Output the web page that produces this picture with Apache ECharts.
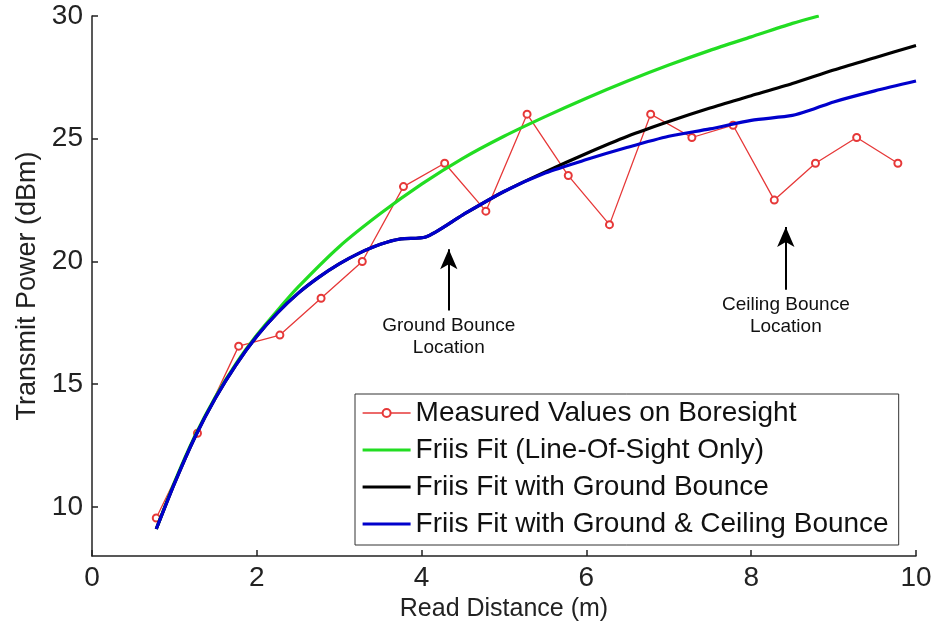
<!DOCTYPE html>
<html>
<head>
<meta charset="utf-8">
<script src="https://cdn.jsdelivr.net/npm/echarts@6/dist/echarts.min.js"></script>
<style>
html,body{margin:0;padding:0;background:#fff;}
#c{width:948px;height:621px;}
</style>
</head>
<body>
<div id="c"></div>
<script>
// ---- data ----
const xTicks = [0, 2, 4, 6, 8, 10];
const yTicks = [10, 15, 20, 25, 30];

const seriesNames = [
  'Measured Values on Boresight',
  'Friis Fit (Line-Of-Sight Only)',
  'Friis Fit with Ground Bounce',
  'Friis Fit with Ground & Ceiling Bounce'
];

const measX = [0.78, 1.28, 1.78, 2.28, 2.78, 3.28, 3.78, 4.28, 4.78, 5.28, 5.78, 6.28, 6.78, 7.28, 7.78, 8.28, 8.78, 9.28, 9.78];
const measY = [9.55, 13.0, 16.55, 17.0, 18.5, 20.0, 23.05, 24.0, 22.05, 26.0, 23.5, 21.5, 26.0, 25.05, 25.55, 22.5, 24.0, 25.05, 24.0];

const losX = [0.78, 1.0, 1.25, 1.5, 1.75, 2.0, 2.25, 2.5, 3.0, 3.5, 4.0, 4.5, 5.0, 5.5, 6.0, 6.5, 7.0, 7.5, 8.0, 8.5, 8.82];
const losY = [9.1, 11.0, 12.9, 14.5, 15.85, 17.0, 18.0, 18.95, 20.6, 21.95, 23.15, 24.2, 25.1, 25.9, 26.65, 27.35, 28.0, 28.6, 29.15, 29.7, 30.0];

const gbX = [0.78, 1.0, 1.25, 1.5, 1.75, 2.0, 2.25, 2.5, 2.75, 3.0, 3.25, 3.5, 3.75, 4.05, 4.5, 5.0, 5.5, 6.0, 6.5, 7.0, 7.5, 8.0, 8.5, 9.0, 9.5, 10.0];
const gbY = [9.1, 10.95, 12.85, 14.45, 15.8, 16.95, 17.9, 18.7, 19.35, 19.9, 20.35, 20.7, 20.92, 21.0, 21.9, 22.85, 23.65, 24.4, 25.1, 25.7, 26.25, 26.75, 27.25, 27.8, 28.3, 28.8];

const gcX = [0.78, 1.0, 1.25, 1.5, 1.75, 2.0, 2.25, 2.5, 2.75, 3.0, 3.25, 3.5, 3.75, 4.05, 4.5, 5.0, 5.5, 6.0, 6.5, 7.0, 7.5, 8.0, 8.5, 8.75, 9.0, 9.5, 10.0];
const gcY = [9.1, 10.95, 12.85, 14.45, 15.8, 16.95, 17.9, 18.7, 19.35, 19.9, 20.35, 20.7, 20.92, 21.0, 21.9, 22.85, 23.6, 24.15, 24.65, 25.1, 25.4, 25.75, 25.95, 26.2, 26.5, 26.95, 27.35];

// annotation arrows
const annGroundX = 4.33, annGroundY0 = 18.0, annGroundY1 = 20.5, annGroundText = 'Ground Bounce\nLocation';
const annCeilX = 8.42, annCeilY0 = 18.85, annCeilY1 = 21.4, annCeilText = 'Ceiling Bounce\nLocation';

function pairs(xs, ys) { return xs.map((x, i) => [x, ys[i]]); }

const FONT = '"Liberation Sans", Arial, Helvetica, sans-serif';
const chart = echarts.init(document.getElementById('c'), null, {renderer: 'canvas'});

const fitLegendLine = {width: 3.2};

const option = {
  backgroundColor: '#fff',
  animation: false,
  textStyle: {fontFamily: FONT},
  grid: {left: 92, right: 32, top: 16, bottom: 65, containLabel: false, outerBoundsMode: 'none'},
  legend: {
    orient: 'vertical',
    left: 355,
    top: 394,
    data: [
      {name: seriesNames[0], lineStyle: {width: 1.3}},
      {name: seriesNames[1], itemStyle: {opacity: 0}, lineStyle: fitLegendLine},
      {name: seriesNames[2], itemStyle: {opacity: 0}, lineStyle: fitLegendLine},
      {name: seriesNames[3], itemStyle: {opacity: 0}, lineStyle: fitLegendLine}
    ],
    backgroundColor: '#fff',
    borderColor: '#333',
    borderWidth: 1,
    borderRadius: 0,
    padding: [4, 10, 6, 6],
    itemGap: 7,
    itemWidth: 48,
    itemHeight: 10,
    textStyle: {fontFamily: FONT, fontSize: 28, color: '#111', lineHeight: 30}
  },
  xAxis: {
    type: 'value',
    min: 0, max: 10,
    name: 'Read Distance (m)',
    nameLocation: 'middle',
    nameGap: 36,
    nameTextStyle: {fontFamily: FONT, fontSize: 25, color: '#222'},
    axisLine: {show: true, lineStyle: {color: '#222', width: 1.5}},
    axisTick: {show: true, inside: true, length: 6, customValues: xTicks, lineStyle: {color: '#222', width: 1.5}},
    axisLabel: {customValues: xTicks, fontSize: 28, color: '#222', margin: 8, fontFamily: FONT},
    splitLine: {show: false}
  },
  yAxis: {
    type: 'value',
    min: 8, max: 30,
    name: 'Transmit Power (dBm)',
    nameLocation: 'middle',
    nameGap: 50,
    nameTextStyle: {fontFamily: FONT, fontSize: 27, color: '#222'},
    axisLine: {show: true, lineStyle: {color: '#222', width: 1.5}},
    axisTick: {show: true, inside: true, length: 6, customValues: yTicks, lineStyle: {color: '#222', width: 1.5}},
    axisLabel: {customValues: yTicks, fontSize: 28, color: '#222', margin: 9, fontFamily: FONT},
    splitLine: {show: false}
  },
  series: [
    {
      name: seriesNames[0],
      type: 'line',
      data: pairs(measX, measY),
      symbol: 'emptyCircle',
      symbolSize: 7,
      lineStyle: {color: '#e63838', width: 1.3},
      itemStyle: {color: '#e63838', borderWidth: 1.3},
      z: 2
    },
    {
      name: seriesNames[1],
      type: 'line',
      data: pairs(losX, losY),
      showSymbol: false,
      smooth: 0.25,
      lineStyle: {color: '#22dd22', width: 3.2},
      itemStyle: {color: '#22dd22'},
      z: 3
    },
    {
      name: seriesNames[2],
      type: 'line',
      data: pairs(gbX, gbY),
      showSymbol: false,
      smooth: 0.25,
      lineStyle: {color: '#000000', width: 3.2},
      itemStyle: {color: '#000000'},
      z: 4
    },
    {
      name: seriesNames[3],
      type: 'line',
      data: pairs(gcX, gcY),
      showSymbol: false,
      smooth: 0.25,
      lineStyle: {color: '#0000cc', width: 3.2},
      itemStyle: {color: '#0000cc'},
      z: 5,
      markLine: {
        silent: true,
        symbol: ['none', 'arrow'],
        symbolSize: [13, 20],
        lineStyle: {color: '#000', width: 2, type: 'solid'},
        label: {
          show: true,
          position: 'start',
          distance: 4,
          fontFamily: FONT,
          fontSize: 19,
          lineHeight: 22,
          color: '#111',
          align: 'center'
        },
        data: [
          [
            {coord: [annGroundX, annGroundY0], label: {formatter: annGroundText}},
            {coord: [annGroundX, annGroundY1]}
          ],
          [
            {coord: [annCeilX, annCeilY0], label: {formatter: annCeilText}},
            {coord: [annCeilX, annCeilY1]}
          ]
        ]
      }
    }
  ]
};
chart.setOption(option);
</script>
</body>
</html>
